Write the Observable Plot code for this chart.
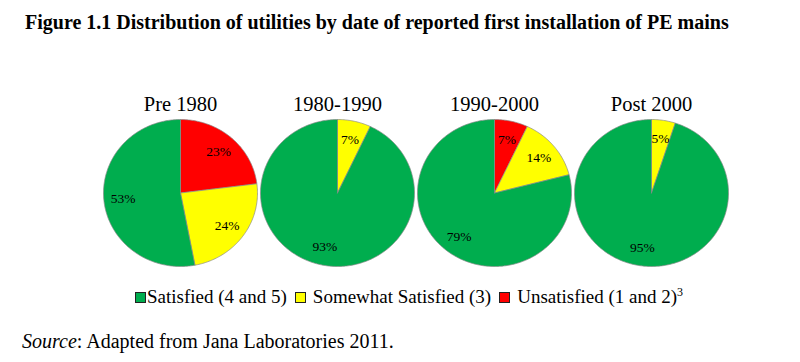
<!DOCTYPE html>
<html>
<head>
<meta charset="utf-8">
<script src="https://cdn.jsdelivr.net/npm/d3@7"></script>
<script src="https://cdn.jsdelivr.net/npm/@observablehq/plot@0.6"></script>
<style>
  html, body { margin: 0; padding: 0; background: #fff; width: 800px; height: 362px; overflow: hidden; }
  body { position: relative; font-family: "Liberation Serif", "Times New Roman", serif; color: #000; }
  #title { position: absolute; left: 25px; top: 10px; font-weight: bold; font-size: 20px; line-height: 24px; white-space: nowrap; }
  #chart { position: absolute; left: 0; top: 45px; }
  #legend { position: absolute; left: 135px; top: 286px; font-size: 19px; line-height: 22px; white-space: nowrap; }
  #legend .sw { display: inline-block; width: 9px; height: 9px; border: 1px solid #222; vertical-align: 0px; }
  #legend sup { font-size: 12px; vertical-align: 7px; line-height: 0; }
  #source { position: absolute; left: 22px; top: 330px; font-size: 20px; line-height: 22px; white-space: nowrap; }
</style>
</head>
<body>
<div id="title">Figure 1.1 Distribution of utilities by date of reported first installation of PE mains</div>
<div id="chart"></div>
<div id="legend"></div>
<div id="source"><i>Source</i>: Adapted from Jana Laboratories 2011.</div>
<script>
const periods = ["Pre 1980", "1980-1990", "1990-2000", "Post 2000"];
const categories = ["Unsatisfied (1 and 2)", "Somewhat Satisfied (3)", "Satisfied (4 and 5)"];
const colors = ["#FF0000", "#FFFF00", "#00AD4E"];
const unsatisfied = [23, 0, 7, 0];
const somewhat = [24, 7, 14, 5];
const satisfied = [53, 93, 79, 95];

// Build slices with d3.pie (clockwise from 12 o'clock)
const slices = [];
periods.forEach((p, i) => {
  const vals = [unsatisfied[i], somewhat[i], satisfied[i]];
  const arcs = d3.pie().sort(null).startAngle(0).endAngle(2 * Math.PI)(vals);
  arcs.forEach((a, k) => {
    if (a.value === 0) return;
    const pts = [{x: 0, y: 0}];
    const n = Math.max(2, Math.ceil((a.endAngle - a.startAngle) / (Math.PI / 180)));
    for (let j = 0; j <= n; j++) {
      const t = a.startAngle + (a.endAngle - a.startAngle) * j / n;
      pts.push({x: Math.sin(t), y: Math.cos(t)});
    }
    pts.push({x: 0, y: 0});
    slices.push({period: p, cat: categories[k], color: colors[k], value: a.value,
                 a0: a.startAngle, a1: a.endAngle, pts});
  });
});

const marks = [];
for (const s of slices) {
  marks.push(Plot.line(s.pts, {
    x: "x", y: "y", fx: () => s.period,
    fill: s.color, stroke: "#8a8a8a", strokeWidth: 0.7, strokeLinejoin: "round"
  }));
}
marks.push(Plot.text(slices, {
  fx: "period",
  x: d => 0.75 * Math.sin((d.a0 + d.a1) / 2),
  y: d => 0.75 * Math.cos((d.a0 + d.a1) / 2),
  text: d => d.value + "%",
  fontSize: 13.5, fill: "#000"
}));
marks.push(Plot.text(periods, {
  fx: d => d, text: d => d, frameAnchor: "top", lineAnchor: "bottom", dy: -9,
  fontSize: 20.5, fill: "#000"
}));

const plot = Plot.plot({
  width: 800,
  height: 235,
  marginLeft: 102,
  marginRight: 72,
  marginTop: 74,
  marginBottom: 14,
  style: {fontFamily: "'Liberation Serif', 'Times New Roman', serif", background: "transparent", overflow: "visible"},
  fx: {domain: periods, paddingInner: 0.02, paddingOuter: 0, axis: null, label: null},
  x: {domain: [-1, 1], axis: null},
  y: {domain: [-1, 1], axis: null},
  marks
});
document.getElementById("chart").appendChild(plot);

// Legend (Satisfied, Somewhat, Unsatisfied)
const legend = document.getElementById("legend");
const order = [2, 1, 0];
order.forEach((k, idx) => {
  const sw = document.createElement("span");
  sw.className = "sw";
  sw.style.background = colors[k];
  sw.style.marginLeft = idx === 0 ? "0px" : "8px";
  sw.style.marginRight = idx === 0 ? "1px" : "7px";
  legend.appendChild(sw);
  const t = document.createElement("span");
  t.textContent = categories[k];
  legend.appendChild(t);
  if (k === 0) {
    const sup = document.createElement("sup");
    sup.textContent = "3";
    legend.appendChild(sup);
  }
});
</script>
</body>
</html>
